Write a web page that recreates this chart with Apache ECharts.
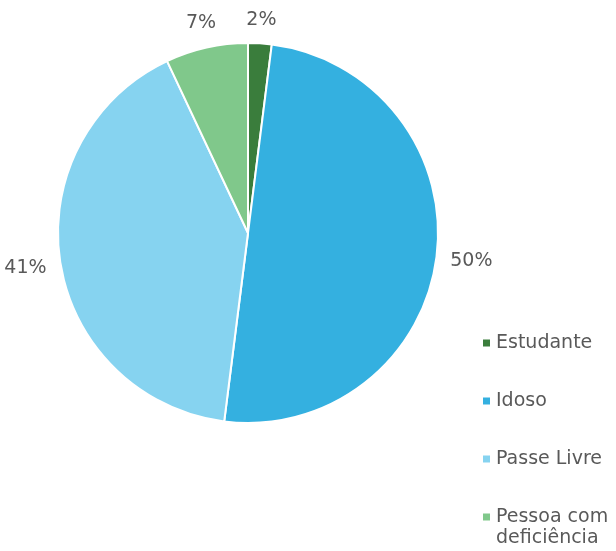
<!DOCTYPE html>
<html>
<head>
<meta charset="utf-8">
<script src="https://cdn.jsdelivr.net/npm/echarts@6/dist/echarts.min.js"></script>
<style>
  html, body { margin: 0; padding: 0; background: #ffffff; }
  #chart { width: 616px; height: 551px; }
</style>
</head>
<body>
<div id="chart"></div>
<script>
// Share of each passenger category (%)
const categories = ['Estudante', 'Idoso', 'Passe Livre', 'Pessoa com deficiência'];
const shares = [2, 50, 41, 7];
const sliceColors = ['#3a7d3c', '#34b0e0', '#86d3f0', '#80c88b'];

const textFont = 'DejaVu Sans';
const textColor = '#595959';
const pieCenter = [248, 233];
const pieRadius = 190;
const labelGap = 13;

// Mid angle of each slice, measured clockwise from 12 o'clock
const total = shares.reduce((a, b) => a + b, 0);
let acc = 0;
const midAngles = shares.map(v => {
  const mid = (acc + v / 2) / total * 2 * Math.PI;
  acc += v;
  return mid;
});

// Long legend names wrap after "com"; the second line hangs below
// without adding height, so the marker stays beside the first line.
function legendText(name) {
  const cut = name.indexOf(' com ');
  if (cut < 0) return name;
  return '{first|' + name.slice(0, cut + 4) + '}\n{rest|' + name.slice(cut + 5) + '}';
}

const chart = echarts.init(document.getElementById('chart'), null, { renderer: 'canvas' });

chart.setOption({
  animation: false,
  color: sliceColors,
  legend: {
    orient: 'vertical',
    left: 476,
    top: 326,
    height: 240,
    itemWidth: 9,
    itemHeight: 9,
    itemGap: 34,
    icon: 'rect',
    formatter: legendText,
    textStyle: {
      fontFamily: textFont, fontSize: 19, color: textColor, lineHeight: 24,
      rich: {
        first: { fontFamily: textFont, fontSize: 19, color: textColor, lineHeight: 24 },
        rest: { fontFamily: textFont, fontSize: 19, color: textColor, lineHeight: 0, verticalAlign: 'top' }
      }
    },
    data: categories
  },
  series: [{
    type: 'pie',
    center: pieCenter,
    radius: pieRadius,
    startAngle: 90,
    clockwise: true,
    avoidLabelOverlap: false,
    itemStyle: { borderColor: '#ffffff', borderWidth: 2 },
    label: {
      show: true,
      position: 'outside',
      formatter: '{c}%',
      fontFamily: textFont,
      fontSize: 19,
      color: textColor
    },
    labelLine: { show: false },
    // Labels sit just outside the rim, centred on each slice's bisector
    labelLayout: params => {
      const a = midAngles[params.dataIndex];
      const s = Math.sin(a), c = Math.cos(a);
      const w = params.labelRect.width, h = params.labelRect.height;
      const d = pieRadius + labelGap + Math.abs(s) * w / 2 + Math.abs(c) * h / 2;
      return {
        x: pieCenter[0] + d * s,
        y: pieCenter[1] - d * c,
        align: 'center',
        verticalAlign: 'middle'
      };
    },
    emphasis: { disabled: true },
    data: categories.map((name, i) => ({ name, value: shares[i] }))
  }]
});
</script>
</body>
</html>
